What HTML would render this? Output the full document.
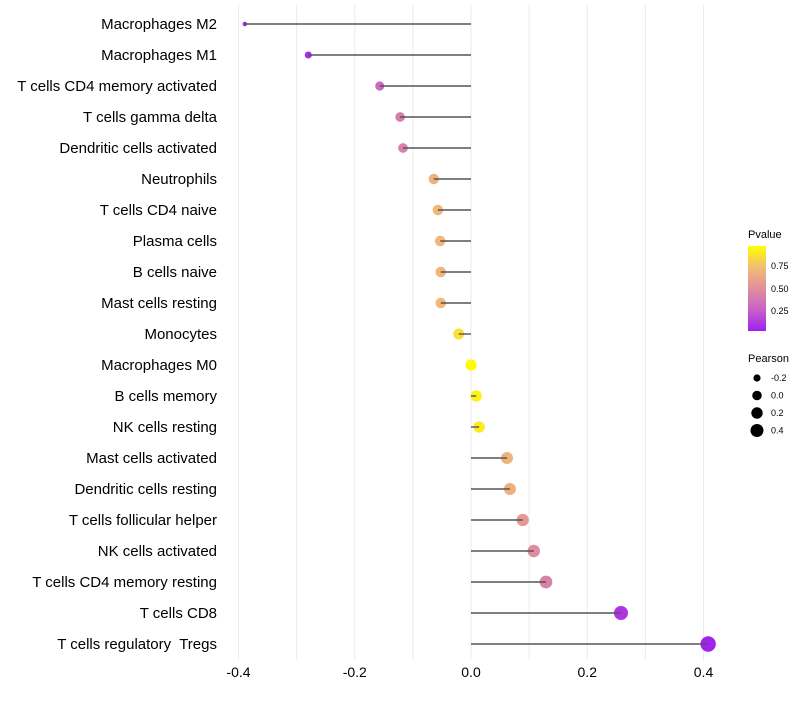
<!DOCTYPE html>
<html><head><meta charset="utf-8"><style>
body{margin:0;background:#fff;font-family:"Liberation Sans",sans-serif}
svg text{font-family:"Liberation Sans",sans-serif}
</style></head><body>
<svg id="chart" width="800" height="700">
<defs><linearGradient id="pg" x1="0" y1="1" x2="0" y2="0">
<stop offset="0" stop-color="#a020f0"/><stop offset="0.25" stop-color="#c860c8"/><stop offset="0.5" stop-color="#e0909a"/><stop offset="0.75" stop-color="#f2bc74"/><stop offset="1" stop-color="#ffff00"/></linearGradient></defs>
<g id="grid"></g>
<g id="marks"></g>
<g id="ylabels"></g>
<g id="xlabels"></g>
<g>
<text x="748" y="238" font-size="11">Pvalue</text>
<rect x="748" y="246" width="18" height="85" fill="url(#pg)"/>
<text x="771" y="269" font-size="9">0.75</text>
<text x="771" y="292" font-size="9">0.50</text>
<text x="771" y="314" font-size="9">0.25</text>
</g>
<g id="sizeLegend">
<text x="748" y="362" font-size="11">Pearson</text>
</g>
</svg>
<script>
const categories=["Macrophages M2","Macrophages M1","T cells CD4 memory activated","T cells gamma delta","Dendritic cells activated","Neutrophils","T cells CD4 naive","Plasma cells","B cells naive","Mast cells resting","Monocytes","Macrophages M0","B cells memory","NK cells resting","Mast cells activated","Dendritic cells resting","T cells follicular helper","NK cells activated","T cells CD4 memory resting","T cells CD8","T cells regulatory  Tregs"];
const pearson=[-0.389,-0.280,-0.157,-0.122,-0.117,-0.064,-0.057,-0.053,-0.052,-0.052,-0.021,0.0,0.009,0.014,0.062,0.067,0.089,0.108,0.129,0.258,0.408];
const pvalues=[0.02,0.05,0.3,0.4,0.42,0.7,0.73,0.72,0.72,0.73,0.88,0.99,0.95,0.93,0.7,0.68,0.55,0.48,0.42,0.08,0.01];
const xTicks=[-0.4,-0.2,0.0,0.2,0.4];
const xTickLabels=["-0.4","-0.2","0.0","0.2","0.4"];
const minorTicks=[-0.3,-0.1,0.1,0.3];
const sizeLegendValues=[-0.2,0.0,0.2,0.4];
const sizeLegendLabels=["-0.2","0.0","0.2","0.4"];

const NS="http://www.w3.org/2000/svg";
const xS=v=>471+v*581.25;
const yS=i=>24+i*31;
const rS=v=>Math.sqrt(Math.max(3,5+(v+0.39)*68));
const stops=[[0,[160,32,240]],[0.25,[200,96,200]],[0.5,[224,144,154]],[0.75,[242,188,116]],[1,[255,255,0]]];
function col(p){for(let k=0;k<stops.length-1;k++){const a=stops[k],b=stops[k+1];if(p<=b[0]){const t=(p-a[0])/(b[0]-a[0]);return "rgb("+a[1].map((c,j)=>Math.round(c+(b[1][j]-c)*t)).join(",")+")";}}return "rgb(255,255,0)";}
function mk(tag,attrs,parent){const e=document.createElementNS(NS,tag);for(const k in attrs)e.setAttribute(k,attrs[k]);parent.appendChild(e);return e;}
const grid=document.getElementById('grid'),marks=document.getElementById('marks'),yl=document.getElementById('ylabels'),xl=document.getElementById('xlabels'),sl=document.getElementById('sizeLegend');
minorTicks.concat(xTicks).forEach(v=>{const l=mk('line',{x1:xS(v),x2:xS(v),y1:5,y2:660,stroke:'#ebebeb','stroke-width':1},grid);

});
xTicks.forEach((v,i)=>{const t=mk('text',{x:xS(v),y:677,'font-size':14,'text-anchor':'middle',fill:'#000'},xl);t.textContent=xTickLabels[i];

});
categories.forEach((c,i)=>{const y=yS(i);
const t=mk('text',{x:217,y:y+5,'font-size':15,'text-anchor':'end',fill:'#000',style:'white-space:pre'},yl);t.textContent=c;


const d=mk('circle',{cx:xS(pearson[i]),cy:y,r:rS(pearson[i]),fill:col(pvalues[i])},marks);


const l=mk('line',{x1:xS(pearson[i]),x2:xS(0),y1:y,y2:y,stroke:'#555','stroke-width':1.4},marks);

});
sizeLegendValues.forEach((v,i)=>{const y=378+i*17.5;
const d=mk('circle',{cx:757,cy:y,r:rS(v)*0.85,fill:'#000'},sl);


const t=mk('text',{x:771,y:y+3,'font-size':9},sl);t.textContent=sizeLegendLabels[i];

});
</script>
</body></html>
